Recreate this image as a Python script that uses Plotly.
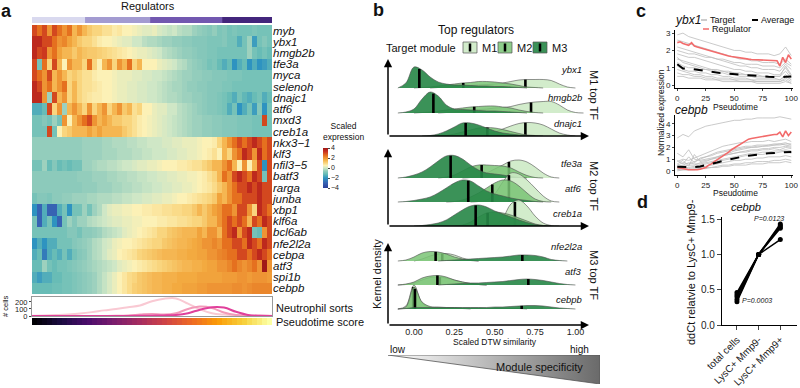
import numpy as np
import plotly.graph_objects as go

W, H = 800, 388
FONT = "Liberation Sans, Arial, Helvetica, sans-serif"

# ---------------- panel a : heatmap data ----------------
GENES = ["myb", "ybx1", "hmgb2b", "tfe3a", "myca", "selenoh", "dnajc1", "atf6", "mxd3", "creb1a",
         "nkx3\u22121", "klf3", "nfil3\u22125", "batf3", "rarga", "junba", "xbp1", "klf6a", "bcl6ab",
         "nfe2l2a", "cebpa", "atf3", "spi1b", "cebpb"]

myb = [3, 2.5, 3, 2, 3, 2.5, 2, 2.5, 1.5, 2, 1.5, 1.2, 1, 1, 0.8, 0.8, 0.6, 0.7, 0.5, 0.5, 0.4, 0.3, 0.2, 0.2,
       0.3, 0.1, 0, -0.1, 0, -0.2, -0.3, -0.3, -0.5, -0.6, -0.7, -0.8, -0.6, -0.9, -0.8, -1, -0.9, -1, -1, -1, -0.9, -1, -1, -1]
ybx1 = [3.5, 3.5, 3, 3, 2.5, 2, 2.2, 1.8, 1.5, 1.2, 1, 1, 0.8, 0.6, 0.5, 0.5, 0.4, 0.3, 0.2, 0.2, 0, 0, -0.2, -0.3,
        -0.3, -0.4, -0.5, -0.5, -0.6, -0.6, -0.7, -0.7, -0.8, -0.8, -0.8, -0.9, -0.9, -0.9, -0.8, -1, -1, -1.5, -1, -0.5, -1.8, -1, -0.8, -1]
hmgb2b = [3.5, 3, 3.2, 2, 2.5, 1.8, 1.5, 1.5, 1.2, 1.5, 1.3, 1.2, 1.2, 1.1, 1, 0.9, 0.8, 0.7, 0.6, 0.5, 0.4, 0.3, 0.3, 0.2,
          0.1, 0, -0.2, -0.3, -0.4, -0.5, -0.6, -0.6, -0.7, -0.8, -0.8, -0.9, -0.9, -1, -1, -1, -1, -1, -1, -0.5, -1, -1.2, -1, -1.2]
tfe3a = [3, -1, 2.5, 1, 3, 1.5, 0.5, 2, 1.5, 1.5, 1, 2.5, 1, 0.5, 1.5, 2, 1, 2, 1.5, 2.5, 1, 1.5, 0.5, 0.5,
         0.5, 0.3, 0.2, 0.1, 0, -0.2, -0.3, -0.5, -0.6, -0.7, -0.8, -1, -0.9, -1.2, -1.5, -1.2, -2, -1.5, -1.2, -2, -1.5, -2, -1.8, -1.5]
myca = [3, 2.5, 2, 3, 1.5, 2, 1.5, 1, 1.2, 1, 0.8, 0.8, 0.6, 0.5, 0.5, 0.5, 0.4, 0.3, 0.3, 0.3, 0.2, 0.2, 0.1, 0.1,
        0, 0, -0.1, -0.2, -0.3, -0.4, -0.5, -0.5, -0.6, -0.6, -0.7, -0.7, -0.8, -0.8, -0.8, -0.9, -0.9, -0.9, -1, -1, -1, -1, -1, -1]
selenoh = [3.5, 3, 2, 2.5, 1.5, 2, 2.5, 1, 1.5, 1, 0.8, 0.8, 0.7, 0.6, 0.5, 0.5, 0.4, 0.3, 0.3, 0.2, 0.2, 0.1, 0.1, 0,
           0, -0.1, -0.2, -0.3, -0.4, -0.4, -0.5, -0.6, -0.6, -0.7, -0.7, -0.8, -0.8, -0.8, -0.9, -0.9, -1, -1, -1, -1, -1, -1, -1, -1]
dnajc1 = [3.5, 3.5, 2, -0.5, 3, 1.5, 2, 1, 1.5, 1, 0.8, 0.7, 0.6, 0.6, 0.5, 0.5, 0.4, 0.3, 0.3, 0.2, 0.2, 0.1, 0.1, 0,
          0, -0.1, -0.2, -0.3, -0.3, -0.4, -0.5, -0.5, -0.6, -0.6, -0.7, -0.8, -0.8, -0.9, -1, -1.2, -1.5, -1, -1.3, -1.5, -1.2, -1, -1.5, -1.2]
atf6 = [-1.5, -1.5, -1.2, 3, 1, 2, -0.5, 1.5, 2, 1.5, 1, 2, 1, 1.5, 2, 1, 1.5, 2, 1.2, 1.5, 0.8, 1, 0.5, 0.5,
        0.3, 0.2, 0.2, 0, 0, -0.2, -0.3, -0.4, -0.5, -0.6, -0.7, -0.8, -0.8, -0.9, -1, -1.5, -1, -2, -1.5, -1, -1.8, -0.8, -2, -1]
mxd3 = [-1, -1, -0.8, -1, -0.5, -1, 2, 0.5, 1.5, 2, 2.5, 3, 2, 1.5, 1.8, 1.5, 1.2, 1.2, 1, 1, 0.8, 0.6, 0.5, 0.4,
        0.3, 0.2, 0.1, 0, -0.1, -0.2, -0.3, -0.4, -0.5, -0.5, -0.6, -0.6, -0.7, -0.7, -0.8, -0.8, -0.8, -0.9, -0.9, -0.9, -1, -1, 3, -1]
creb1a = [-1, -1, -1, 3, -1, 0.5, 1, 1.2, 1.5, 1.5, 1.5, 1.8, 1.5, 1.8, 1.5, 1.5, 1.5, 1.5, 1.2, 1, 0.8, 0.6, 0.5, 0.4,
          0.3, 0.2, 0.1, 0, -0.1, -0.2, -0.3, -0.4, -0.5, -0.5, -0.6, -0.6, -0.7, -0.7, -0.8, -0.8, -0.8, -0.9, -0.9, -0.9, -1, -1, -1, -1]
nkx3_1 = [-0.6, -0.6, -0.6, -0.6, -0.6, -0.6, -0.6, -0.6, -0.6, -0.6, -0.5, -0.5, -0.5, -0.5, -0.4, -0.4, -0.3, -0.3, -0.3, -0.2, -0.2, -0.1, -0.1, 0,
          0, 0, 0.1, 0.1, 0.2, 0.2, 0.3, 0.3, 0.3, 0.4, 0.5, 0.5, 0.6, 1, 1.5, 2, 2.5, 3, 2.5, 3, 3.5, 3, 2.5, 3]
klf3 = [-0.6, -0.6, -0.6, -0.6, -0.6, -0.6, -0.6, -0.6, -0.6, -0.6, -0.5, -0.5, -0.5, -0.5, -0.4, -0.4, -0.4, -0.3, -0.3, -0.3, -0.2, -0.2, -0.1, -0.1,
        0, 0, 0, 0.1, 0.1, 0.2, 0.2, 0.3, 0.3, 0.4, 0.5, 0.6, 0.8, 0.5, 1.5, 1, 2, 2.5, 3.5, 3, 2, 3.5, 2.5, 3]
nfil3_5 = [-1, -1, -0.5, -1.2, -0.8, -1.2, -1, -1.2, -1, -1, -0.5, -0.5, -0.4, -0.3, -0.3, -0.2, -0.2, -0.1, 0, 0, 0.1, 0.2, 0.2, 0.3,
           0.3, 0.4, 0.5, 0.5, 0.5, 0.6, 0.6, 0.7, 0.8, 0.8, 1, 1.2, 1.5, 1.5, 2, 2.5, 1.5, 0.5, 2, 0.5, 1.5, 3, -2, 3]
batf3 = [-0.7, -0.7, -0.7, -0.7, -0.7, -0.7, -0.7, -0.7, -0.7, -0.6, -0.6, -0.6, -0.5, -0.5, -0.5, -0.4, -0.4, -0.3, -0.3, -0.2, -0.2, -0.1, -0.1, 0,
         0, 0.1, 0.1, 0.2, 0.2, 0.3, 0.3, 0.4, 0.4, 0.5, 0.6, 0.8, 1, 1.5, 2.5, 2, 3, 3.5, 3, 2.5, 3.5, 3, -1, 3]
rarga = [-0.7, -0.7, -0.7, -0.7, -0.7, -0.7, -0.7, -0.7, -0.7, -0.7, -0.6, -0.6, -0.6, -0.5, -0.5, -0.5, -0.4, -0.4, -0.3, -0.3, -0.2, -0.2, -0.1, -0.1,
         0, 0, 0.1, 0.1, 0.2, 0.2, 0.3, 0.3, 0.4, 0.5, 0.6, 0.7, 0.9, 1.2, 1.5, 2, 2.5, 3, 3, 3.5, 3, 3.5, 3, 3]
junba = [-1, -0.8, -0.8, -0.9, -0.7, -0.7, -0.6, -0.6, -0.5, -0.5, -0.5, -0.4, -0.4, -0.3, -0.3, -0.3, -0.2, -0.2, -0.1, -0.1, 0, 0, 0.1, 0.1,
         0.2, 0.2, 0.3, 0.3, 0.4, 0.5, 0.5, 0.6, 0.7, 0.8, 0.9, 1, 1.2, 1.8, 1.5, 2, 2.5, 2.5, 3, 3, 3, 3.5, 3, 3]
xbp1 = [-2, -3, -1.5, -3, -3, -1.5, -1, -2, -1, -1, -0.5, -1, -0.5, -0.3, 0, 0.2, 0.3, 0.3, 0.4, 0.4, 0.5, 0.5, 0.6, 0.6,
        0.7, 0.7, 0.8, 0.8, 0.9, 0.9, 1, 1, 1.2, 1.5, 1.2, 1.5, 1.8, 2, 2.5, 2.5, 2, 3, 3, 2, 1, 3.5, 3, 2.5]
klf6a = [-1, -3, -1.5, -1, -2, -3, -1, -0.5, -0.8, -0.5, -0.5, -0.3, -0.2, -0.1, 0, 0.1, 0.2, 0.2, 0.3, 0.3, 0.4, 0.4, 0.5, 0.5,
         0.5, 0.6, 0.6, 0.7, 0.7, 0.8, 0.8, 0.9, 1, 1, 1.2, 1.5, 1.5, 2, 2.5, 3, 2.5, 3, 2.5, 1.5, 3, 2.5, 3.5, 3]
bcl6ab = [-1, -1, -1, -1, -1, -1, -1, -0.8, -0.8, -1, -0.7, -0.7, -0.6, -0.5, -0.3, -0.2, -0.1, 0, 0.2, 0.3, 0.4, 0.5, 0.6, 0.7,
          0.8, 1, 1, 1.2, 1.3, 1.4, 1.5, 1.5, 1.5, 1.8, 1.5, 2, 2, 1.5, 2.5, 3, 3.5, 2, 3, 3.5, -1, -1.2, 2, 3]
nfe2l2a = [-2, -1.5, -2, -1.5, -1.5, -1, -1, -1, -0.8, -0.7, -0.6, -0.5, -0.3, -0.2, 0, 0.1, 0.3, 0.4, 0.5, 0.5, 0.6, 0.7, 0.8, 0.9,
           1, 1, 1.2, 1.3, 1.4, 1.5, 1.5, 1.6, 1.7, 1.8, 2, 2, 2.2, 2, 2.5, 2.5, 3, 3, 2.5, 3.5, 3, 2.5, 3.5, 3]
cebpa = [-1.5, -1.2, -2.5, -1.5, -1.2, -1.5, -1, -1.5, -1, -0.8, -0.7, -0.5, -0.3, -0.2, 0, 0.2, 0.3, 0.5, 0.6, 0.7, 0.8, 1, 1.1, 1.2,
         1.3, 1.4, 1.5, 1.5, 1.5, 1.6, 1.6, 1.7, 1.7, 1.8, 1.8, 2, 2, 2.2, 2.3, 2.5, 2.5, 3, 3, 2.5, 3, 3.5, 3, 2.5]
atf3 = [-1.2, -1.2, -0.5, -1, -1.2, -1, -1, -0.9, -0.8, -0.7, -0.6, -0.5, -0.4, -0.3, -0.2, -0.1, 0, 0.2, 0.3, 0.4, 0.5, 0.6, 0.7, 0.8,
        0.9, 1, 1.1, 1.2, 1.3, 1.4, 1.5, 1.5, 1.6, 1.6, 1.7, 1.8, 1.8, 2, 2, 2.2, 2.5, 2.2, 2, 2.2, 2.5, 2, 4, 2]
spi1b = [-1.5, -1.8, -1.5, -1.5, -1.2, -1.2, -1, -1, -0.9, -0.8, -0.7, -0.6, -0.5, -0.3, -0.1, 0.1, 0.3, 0.5, 0.7, 0.9, 1, 1.2, 1.3, 1.4,
         1.5, 1.5, 1.6, 1.6, 1.6, 1.7, 1.7, 1.7, 1.7, 1.8, 1.8, 1.8, 1.8, 1.8, 1.9, 1.9, 1.9, 2, 2, 1.9, 2, 2, 2, 1.9]
cebpb = [-1.2, -1.2, -1.2, -1.2, -1.1, -1.1, -1, -1, -0.9, -0.8, -0.7, -0.6, -0.5, -0.3, -0.1, 0.1, 0.3, 0.5, 0.7, 0.9, 1.1, 1.2, 1.3, 1.4,
         1.5, 1.5, 1.6, 1.6, 1.7, 1.7, 1.8, 1.8, 1.8, 1.9, 1.9, 2, 2, 2, 2, 2, 2.1, 2.1, 2, 2.1, 2.2, 2.2, 2.2, 2.2]

HEAT_ROWS = [myb, ybx1, hmgb2b, tfe3a, myca, selenoh, dnajc1, atf6, mxd3, creb1a, nkx3_1, klf3, nfil3_5,
             batf3, rarga, junba, xbp1, klf6a, bcl6ab, nfe2l2a, cebpa, atf3, spi1b, cebpb]

REG_GROUPS = ["R1", "R2", "R3", "R4"]
REG_WIDTHS = [0.221, 0.271, 0.300, 0.208]
REG_COLORS = ["#d9d9ef", "#a39bd1", "#7258b0", "#43267c"]

PSEUDOTIME = [0.00, 0.02, 0.04, 0.06, 0.085, 0.105, 0.125, 0.15, 0.17, 0.19, 0.21, 0.23, 0.255, 0.275, 0.295, 0.32,
              0.34, 0.36, 0.38, 0.40, 0.425, 0.445, 0.465, 0.49, 0.51, 0.53, 0.55, 0.575, 0.595, 0.615, 0.64, 0.66,
              0.68, 0.70, 0.72, 0.745, 0.765, 0.785, 0.81, 0.83, 0.85, 0.87, 0.89, 0.915, 0.935, 0.955, 0.98, 1.00]

SORT_X = [0, 0.05, 0.1, 0.15, 0.2, 0.25, 0.3, 0.35, 0.4, 0.45, 0.5, 0.55, 0.6, 0.65, 0.7, 0.75, 0.8, 0.85, 0.9, 0.95, 1.0]
SORT_A = [5, 8, 14, 22, 35, 55, 80, 100, 125, 150, 210, 245, 250, 175, 95, 40, 20, 10, 5, 3, 2]
SORT_B = [0, 0, 0, 0, 0, 0, 1, 3, 8, 20, 30, 20, 40, 100, 135, 115, 50, 15, 5, 2, 1]
SORT_C = [0, 0, 0, 0, 0, 0, 0, 0, 0, 2, 5, 8, 15, 40, 90, 125, 120, 60, 15, 3, 1]

# ---------------- panel b : ridge densities ----------------
DTW_GRID = [-0.10, -0.05, 0.00, 0.05, 0.10, 0.15, 0.20, 0.25, 0.30, 0.35, 0.40, 0.45, 0.50, 0.55, 0.60, 0.65,
            0.70, 0.75, 0.80, 0.85, 0.90, 0.95, 1.00, 1.05]
MODULES = ["M1", "M2", "M3"]

ybx1_M1 = [0, 0, 0, 0, 0, 0.5, 1, 1.5, 2, 2.5, 3, 3.5, 4, 5, 6.5, 8, 8.5, 8.5, 8.5, 7.5, 4, 1, 0, 0]
ybx1_M2 = [0, 0, 0, 0.5, 1, 2, 3, 4, 5, 5.5, 6.5, 6.5, 6, 5, 4, 2.5, 1, 0.5, 0, 0, 0, 0, 0, 0]
ybx1_M3 = [0, 5, 21, 18, 11, 6, 4, 3, 3, 2.5, 2, 2, 1.5, 1.5, 1, 0.5, 0, 0, 0, 0, 0, 0, 0, 0]
ybx1_MED = [0.69, 0.305, 0.033]
hmgb2b_M1 = [0, 0, 0, 0, 0, 0, 0.5, 1, 2, 3, 3.5, 4, 5, 5.5, 6.5, 8.5, 10, 11, 11.5, 11.5, 8, 3, 0.5, 0]
hmgb2b_M2 = [0, 0, 0, 0.5, 1, 2, 3, 4, 5, 6, 6.5, 7, 7, 6, 5, 3, 1.5, 0.5, 0, 0, 0, 0, 0, 0]
hmgb2b_M3 = [0, 1, 4, 14, 21, 17, 8, 4, 3.5, 3, 2.5, 2, 2, 1.5, 1, 0.5, 0, 0, 0, 0, 0, 0, 0, 0]
hmgb2b_MED = [0.725, 0.373, 0.12]
dnajc1_M1 = [0, 0, 0, 0, 0, 0, 0, 0, 0, 0, 0.5, 2, 4, 7, 10, 12.5, 13.5, 13, 11, 7, 3, 1, 0, 0]
dnajc1_M2 = [0, 0, 0, 0, 0, 0, 0.5, 2, 4, 6, 8, 8.5, 8, 6.5, 4.5, 2.5, 1, 0.5, 0, 0, 0, 0, 0, 0]
dnajc1_M3 = [0, 0, 0, 0, 0.5, 2, 5, 9, 13, 13, 11, 8, 5, 3, 2, 1, 0.5, 0, 0, 0, 0, 0, 0, 0]
dnajc1_MED = [0.69, 0.454, 0.32]
tfe3a_M1 = [0, 0, 0, 0, 0, 0, 0, 0, 0, 0.5, 2, 5, 9, 13, 17, 18, 16, 11, 5, 1, 0, 0, 0, 0]
tfe3a_M2 = [0, 0, 0, 0, 0, 0, 1, 3, 7, 11, 13, 13, 12.5, 12, 10, 6, 2.5, 0.5, 0, 0, 0, 0, 0, 0]
tfe3a_M3 = [0, 1, 3, 6, 11, 17, 22, 22.5, 19, 13, 8, 5, 4, 3, 1.5, 0.5, 0, 0, 0, 0, 0, 0, 0, 0]
tfe3a_MED = [0.588, 0.419, 0.227]
atf6_M1 = [0, 0, 0, 0, 0, 0, 0, 0, 0, 0, 0.5, 2, 8, 20, 29, 28, 22, 14, 6, 1, 0, 0, 0, 0]
atf6_M2 = [0, 0, 0, 0, 0, 0, 0, 0.5, 2, 5, 9, 14, 19, 22, 21, 16, 9, 3, 0.5, 0, 0, 0, 0, 0]
atf6_M3 = [0, 0.5, 1.5, 3, 5, 9, 14, 19, 22, 21, 16, 11, 8, 6, 4, 2.5, 1.5, 0.5, 0, 0, 0, 0, 0, 0]
atf6_MED = [0.588, 0.485, 0.336]
creb1a_M1 = [0, 0, 0, 0, 0, 0, 0, 0, 0, 0, 0, 0, 1, 8, 22, 26, 20, 10, 3, 0.5, 0, 0, 0, 0]
creb1a_M2 = [0, 0, 0, 0, 0, 0, 0, 0, 1, 4, 9, 13, 14, 13, 11, 8, 5, 2, 0.5, 0, 0, 0, 0, 0]
creb1a_M3 = [0, 0, 0, 0.5, 1.5, 3, 6, 11, 16, 20, 21, 19, 15, 12, 9, 6, 3.5, 1.5, 0.5, 0, 0, 0, 0, 0]
creb1a_MED = [0.625, 0.456, 0.382]
nfe2l2a_M1 = [0, 0, 0, 2, 5, 7, 7.5, 6, 3, 1, 0, 0, 0, 0, 0, 0, 0, 0, 0, 0, 0, 0, 0, 0]
nfe2l2a_M2 = [0, 1, 4, 8, 9.5, 9, 7, 4, 2, 0.5, 0, 0, 0, 0, 0, 0, 0, 0, 0, 0, 0, 0, 0, 0]
nfe2l2a_M3 = [0, 0, 0, 0, 0, 0, 0.5, 1, 1.5, 2, 2.5, 3, 3.5, 4, 5, 6, 6, 5.5, 4, 1.5, 0.5, 0, 0, 0]
nfe2l2a_MED = [0.175, 0.134, 0.671]
atf3_M1 = [0, 0.5, 2, 5, 7.5, 8, 7, 5, 3, 1.5, 0.5, 0, 0, 0, 0, 0, 0, 0, 0, 0, 0, 0, 0, 0]
atf3_M2 = [0, 1, 3, 7, 9, 9.5, 8, 5, 3, 1.5, 0.5, 0, 0, 0, 0, 0, 0, 0, 0, 0, 0, 0, 0, 0]
atf3_M3 = [0, 0, 0, 0, 0, 0, 0.5, 1, 1.5, 2, 2, 2.5, 3, 3.5, 4.5, 5.5, 6, 5.5, 4.5, 3, 1.5, 0.5, 0, 0]
atf3_MED = [0.16, 0.145, 0.708]
cebpb_M1 = [0, 3, 24, 6, 1.5, 1, 1, 0.5, 0.5, 0, 0, 0, 0, 0, 0, 0, 0, 0, 0, 0, 0, 0, 0, 0]
cebpb_M2 = [0, 2, 22, 7, 2.5, 2, 1.5, 1.5, 1, 1, 1, 0.5, 0.5, 0.5, 0.5, 0.5, 0, 0, 0, 0, 0, 0, 0, 0]
cebpb_M3 = [0, 0.5, 1.5, 1.5, 1.5, 1.5, 1.5, 1.5, 1.5, 1.5, 1.5, 1.5, 2, 2, 2.5, 3, 3.5, 3.5, 3, 2, 1, 0.5, 0, 0]
cebpb_MED = [-0.005, 0.006, 0.667]

RIDGES = {
    "ybx1": ([ybx1_M1, ybx1_M2, ybx1_M3], ybx1_MED),
    "hmgb2b": ([hmgb2b_M1, hmgb2b_M2, hmgb2b_M3], hmgb2b_MED),
    "dnajc1": ([dnajc1_M1, dnajc1_M2, dnajc1_M3], dnajc1_MED),
    "tfe3a": ([tfe3a_M1, tfe3a_M2, tfe3a_M3], tfe3a_MED),
    "atf6": ([atf6_M1, atf6_M2, atf6_M3], atf6_MED),
    "creb1a": ([creb1a_M1, creb1a_M2, creb1a_M3], creb1a_MED),
    "nfe2l2a": ([nfe2l2a_M1, nfe2l2a_M2, nfe2l2a_M3], nfe2l2a_MED),
    "atf3": ([atf3_M1, atf3_M2, atf3_M3], atf3_MED),
    "cebpb": ([cebpb_M1, cebpb_M2, cebpb_M3], cebpb_MED),
}
DTW_TICKS = [0, 0.25, 0.5, 0.75, 1.0]
DTW_TICKTEXT = ["0.00", "0.25", "0.50", "0.75", "1.00"]
WEDGE_X = [0, 1, 1, 0]
WEDGE_Y = [1, 1, 0, 1]

# ---------------- panel c ----------------
PT21 = [0, 5, 10, 15, 20, 25, 30, 35, 40, 45, 50, 55, 60, 65, 70, 75, 80, 85, 90, 95, 100]
PT41 = [0, 2.5, 5, 7.5, 10, 12.5, 15, 17.5, 20, 22.5, 25, 27.5, 30, 32.5, 35, 37.5, 40, 42.5, 45, 47.5, 50,
        52.5, 55, 57.5, 60, 62.5, 65, 67.5, 70, 72.5, 75, 77.5, 80, 82.5, 85, 87.5, 90, 92.5, 95, 97.5, 100]
YBX1_TARGETS = [
    [2.9, 3.0, 2.8, 2.7, 2.6, 2.5, 2.4, 2.3, 2.2, 2.1, 2.0, 2.0, 1.9, 1.9, 1.8, 1.8, 1.8, 1.7, 1.8, 2.2, 1.7],
    [2.6, 2.5, 2.4, 2.3, 2.2, 2.1, 2.0, 1.9, 1.8, 1.7, 1.6, 1.5, 1.5, 1.4, 1.4, 1.3, 1.3, 1.3, 1.2, 1.5, 1.2],
    [2.2, 2.1, 2.0, 1.9, 1.8, 1.7, 1.6, 1.5, 1.4, 1.3, 1.2, 1.1, 1.1, 1.0, 1.0, 0.9, 0.9, 0.9, 0.8, 1.2, 0.9],
    [1.8, 1.7, 1.6, 1.6, 1.5, 1.4, 1.3, 1.2, 1.1, 1.0, 0.9, 0.9, 0.8, 0.8, 0.7, 0.7, 0.7, 0.6, 0.6, 1.0, 0.5],
    [1.5, 1.4, 1.3, 1.2, 1.1, 1.0, 0.9, 0.9, 0.8, 0.8, 0.7, 0.7, 0.6, 0.6, 0.6, 0.5, 0.5, 0.5, 0.5, 0.8, 0.4],
    [1.3, 1.1, 1.0, 1.0, 0.9, 0.9, 0.8, 0.7, 0.7, 0.6, 0.6, 0.5, 0.5, 0.5, 0.4, 0.4, 0.4, 0.4, 0.3, 0.6, 0.3],
    [1.1, 0.9, 0.8, 0.8, 0.7, 0.7, 0.6, 0.6, 0.5, 0.5, 0.4, 0.4, 0.4, 0.3, 0.3, 0.3, 0.3, 0.3, 0.3, 0.5, 0.3],
    [0.9, 0.8, 0.7, 0.6, 0.6, 0.5, 0.5, 0.4, 0.4, 0.4, 0.3, 0.3, 0.3, 0.3, 0.2, 0.2, 0.2, 0.2, 0.2, 0.4, 0.2],
    [0.7, 0.6, 0.6, 0.5, 0.5, 0.4, 0.4, 0.3, 0.3, 0.3, 0.3, 0.2, 0.2, 0.2, 0.2, 0.2, 0.2, 0.2, 0.2, 0.3, 0.1],
    [1.6, 1.3, 1.2, 1.1, 1.0, 0.9, 0.9, 0.8, 0.8, 0.7, 0.7, 0.6, 0.6, 0.6, 0.5, 0.5, 0.5, 0.5, 0.5, 1.1, 0.6],
    [0.5, 0.5, 0.4, 0.4, 0.4, 0.3, 0.3, 0.3, 0.2, 0.2, 0.2, 0.2, 0.2, 0.2, 0.1, 0.1, 0.1, 0.1, 0.1, 0.2, 0.1],
    [2.0, 1.9, 1.8, 1.8, 1.7, 1.6, 1.6, 1.5, 1.5, 1.4, 1.3, 1.3, 1.2, 1.2, 1.2, 1.1, 1.1, 1.1, 1.0, 1.3, 1.1],
]
YBX1_REG = [2.45, 2.5, 2.4, 2.35, 2.3, 2.45, 2.25, 2.2, 2.15, 2.1, 2.05, 2.0, 1.95, 1.9, 1.85, 1.8, 1.78, 1.72,
            1.68, 1.65, 1.62, 1.6, 1.55, 1.52, 1.5, 1.5, 1.48, 1.47, 1.45, 1.45, 1.43, 1.42, 1.42, 1.4, 1.38, 1.4,
            1.1, 1.6, 1.3, 1.75, 1.5]
YBX1_AVG = [1.2, 0.95, 0.95, 0.9, 0.85, 0.8, 0.75, 0.7, 0.67, 0.65, 0.62, 0.6, 0.57, 0.55, 0.52, 0.5, 0.48, 0.47, 0.45, 0.48, 0.5]

CEBPB_TARGETS = [
    [2.8, 3.1, 2.9, 3.4, 3.6, 3.8, 3.9, 4.0, 4.1, 4.2, 4.3, 4.3, 4.4, 4.4, 4.5, 4.5, 4.5, 4.5, 4.6, 4.5, 4.4],
    [0.8, 1.0, 0.9, 1.1, 1.3, 1.5, 1.7, 1.9, 2.1, 2.2, 2.3, 2.4, 2.4, 2.5, 2.5, 2.5, 2.6, 2.5, 2.6, 2.7, 2.5],
    [0.5, 0.7, 0.6, 0.8, 1.0, 1.2, 1.4, 1.6, 1.7, 1.8, 1.9, 2.0, 2.1, 2.1, 2.2, 2.2, 2.2, 2.3, 2.3, 2.4, 2.2],
    [0.3, 0.4, 0.5, 0.5, 0.7, 0.8, 1.0, 1.1, 1.3, 1.4, 1.5, 1.6, 1.7, 1.8, 1.8, 1.9, 1.9, 2.0, 2.0, 2.1, 2.0],
    [0.2, 0.3, 0.3, 0.4, 0.5, 0.6, 0.7, 0.8, 0.9, 1.0, 1.1, 1.2, 1.3, 1.3, 1.4, 1.4, 1.5, 1.5, 1.6, 1.7, 1.5],
    [0.1, 0.2, 0.2, 0.3, 0.3, 0.4, 0.5, 0.6, 0.7, 0.8, 0.9, 0.9, 1.0, 1.0, 1.1, 1.1, 1.2, 1.2, 1.2, 1.3, 1.2],
    [0.1, 0.1, 0.1, 0.2, 0.2, 0.3, 0.3, 0.4, 0.5, 0.5, 0.6, 0.6, 0.7, 0.7, 0.8, 0.8, 0.8, 0.9, 0.9, 1.0, 0.9],
    [1.5, 1.2, 1.8, 1.0, 0.9, 1.0, 1.1, 1.2, 1.3, 1.4, 1.5, 1.6, 1.6, 1.7, 1.7, 1.8, 1.8, 1.9, 1.8, 2.0, 1.9],
    [0.6, 0.9, 0.4, 1.4, 0.8, 0.9, 1.0, 1.2, 1.4, 1.5, 1.7, 1.8, 1.9, 2.0, 2.0, 2.1, 2.1, 2.2, 2.3, 2.2, 2.1],
    [0.0, 0.1, 0.1, 0.1, 0.2, 0.2, 0.3, 0.3, 0.4, 0.4, 0.5, 0.5, 0.5, 0.6, 0.6, 0.6, 0.7, 0.7, 0.7, 0.8, 0.7],
    [0.4, 0.5, 0.7, 0.6, 0.6, 0.7, 0.8, 0.9, 1.0, 1.1, 1.2, 1.3, 1.4, 1.5, 1.5, 1.6, 1.6, 1.7, 1.7, 1.8, 1.7],
    [0.9, 0.6, 1.2, 0.7, 1.1, 1.2, 1.3, 1.5, 1.6, 1.7, 1.8, 1.9, 2.0, 2.0, 2.1, 2.1, 2.2, 2.2, 2.2, 2.3, 2.3],
]
CEBPB_REG = [0.3, 0.25, 0.15, 0.1, 0.1, 0.1, 0.08, 0.1, 0.15, 0.2, 0.3, 0.5, 0.6, 0.8, 0.95, 1.1, 1.3, 1.45, 1.6,
             1.8, 1.95, 2.1, 2.25, 2.45, 2.6, 2.7, 2.75, 2.8, 2.85, 2.9, 2.95, 3.0, 3.0, 3.05, 3.1, 3.1, 3.3, 2.9,
             3.4, 3.0, 3.3]
CEBPB_AVG = [0.35, 0.32, 0.3, 0.32, 0.38, 0.48, 0.6, 0.72, 0.85, 0.97, 1.07, 1.17, 1.26, 1.34, 1.4, 1.45, 1.5, 1.53, 1.56, 1.6, 1.62]
PT_TICKS = [0, 25, 50, 75, 100]

# ---------------- panel d ----------------
D_CATS = ["total cells", "LysC+ Mmp9-", "LysC+ Mmp9+"]
D_REP1 = [0.46, 1.0, 1.43]
D_REP2 = [0.43, 1.0, 1.41]
D_REP3 = [0.40, 1.0, 1.39]
D_REP4 = [0.36, 1.0, 1.37]
D_REP5 = [0.33, 1.0, 1.21]
D_REPS = [D_REP1, D_REP2, D_REP3, D_REP4, D_REP5]

# ================= build =================
def xd(a, b):
    return [a / W, b / W]


def yd(top, bottom):
    return [1 - bottom / H, 1 - top / H]


def X(p):
    return p / W


def Y(p):
    return 1 - p / H


fig = go.Figure()
HEAT_SCALE = [[0.0, "#2c3e99"], [0.125, "#3763b3"], [0.25, "#2e93c0"], [0.35, "#68bcb6"], [0.425, "#93cdbc"],
              [0.5, "#cfe7c6"], [0.5625, "#fcf1b6"], [0.625, "#f9d57e"], [0.7125, "#f3aa40"], [0.8125, "#e5701f"],
              [0.9125, "#c8301f"], [1.0, "#a01818"]]

fig.add_trace(go.Heatmap(z=HEAT_ROWS, y=GENES, x=list(range(len(myb))), zmin=-4, zmax=4, colorscale=HEAT_SCALE,
                         xaxis="x", yaxis="y", hoverinfo="skip",
                         colorbar=dict(x=X(322.5), xanchor="left", y=Y(168), yanchor="middle", len=40 / H,
                                       lenmode="fraction", thickness=5, thicknessmode="pixels", outlinewidth=0,
                                       tickvals=[-4, -2, 0, 2, 4], tickfont=dict(size=7, family=FONT, color="#222"),
                                       ticks="outside", ticklen=2, tickcolor="#444", xpad=0, ypad=0)))

base = 0
for g, w, c in zip(REG_GROUPS, REG_WIDTHS, REG_COLORS):
    fig.add_trace(go.Bar(x=[w], base=[base], y=[0], orientation="h", width=1, marker=dict(color=c, line=dict(width=0)),
                         xaxis="x2", yaxis="y2", hoverinfo="skip", showlegend=False))
    base += w

for ys, col in [(SORT_A, "#f9c9d3"), (SORT_B, "#f29ab9"), (SORT_C, "#e0409b")]:
    fig.add_trace(go.Scatter(x=SORT_X, y=ys, mode="lines", line=dict(color=col, width=2, shape="spline"),
                             xaxis="x3", yaxis="y3", hoverinfo="skip", showlegend=False))

fig.add_trace(go.Heatmap(z=[PSEUDOTIME], x=list(range(len(PSEUDOTIME))), y=[0], colorscale="Inferno",
                         showscale=False, xaxis="x4", yaxis="y4", hoverinfo="skip"))

MOD_FILL = ["rgba(204,233,196,0.88)", "rgba(122,196,117,0.85)", "rgba(38,134,70,0.9)"]
panels = [
    ("x5", "y5", 59, 136, [("ybx1", 48), ("hmgb2b", 23), ("dnajc1", 0)]),
    ("x6", "y6", 149, 226, [("tfe3a", 48), ("atf6", 24), ("creb1a", 0)]),
    ("x7", "y7", 243, 325, [("nfe2l2a", 64), ("atf3", 40), ("cebpb", 16)]),
]
grid = np.array(DTW_GRID)
for xa, ya, top, bot, ridges in panels:
    for gene, off in ridges:
        dens, meds = RIDGES[gene]
        for m in range(3):
            d = dens[m]
            idx = [i for i, v in enumerate(d) if v > 0]
            lo, hi = max(idx[0] - 1, 0), min(idx[-1] + 1, len(d) - 1)
            xs = DTW_GRID[lo:hi + 1]
            ys = [off + v for v in d[lo:hi + 1]]
            fig.add_trace(go.Scatter(x=xs, y=ys, mode="lines", fill="toself", fillcolor=MOD_FILL[m],
                                     line=dict(color="#4d4d4d", width=0.6, shape="spline", smoothing=1.0),
                                     xaxis=xa, yaxis=ya, hoverinfo="skip", showlegend=False))
            hgt = float(np.interp(meds[m], grid, d))
            fig.add_trace(go.Scatter(x=[meds[m], meds[m]], y=[off, off + hgt], mode="lines",
                                     line=dict(color="black", width=2.6), xaxis=xa, yaxis=ya,
                                     hoverinfo="skip", showlegend=False))

fig.add_trace(go.Scatter(x=WEDGE_X, y=WEDGE_Y, mode="lines", fill="toself",
                         fillgradient=dict(type="horizontal", colorscale=[[0, "#ffffff"], [1, "#6a6a6a"]]),
                         line=dict(color="#555", width=0.8), xaxis="x8", yaxis="y8", hoverinfo="skip",
                         showlegend=False))

for xa, ya, targets, reg, avg in [("x9", "y9", YBX1_TARGETS, YBX1_REG, YBX1_AVG),
                                  ("x10", "y10", CEBPB_TARGETS, CEBPB_REG, CEBPB_AVG)]:
    for t in targets:
        fig.add_trace(go.Scatter(x=PT21, y=t, mode="lines", line=dict(color="#bdbdbd", width=0.8),
                                 xaxis=xa, yaxis=ya, hoverinfo="skip", showlegend=False))
    fig.add_trace(go.Scatter(x=PT41, y=reg, mode="lines", line=dict(color="#f26b6b", width=1.6),
                             xaxis=xa, yaxis=ya, hoverinfo="skip", showlegend=False))
    fig.add_trace(go.Scatter(x=PT21, y=avg, mode="lines", line=dict(color="black", width=2, dash="dash"),
                             xaxis=xa, yaxis=ya, hoverinfo="skip", showlegend=False))

for r in D_REPS:
    fig.add_trace(go.Scatter(x=D_CATS, y=r, mode="lines+markers", line=dict(color="black", width=1.5),
                             marker=dict(color="black", size=5), xaxis="x11", yaxis="y11",
                             hoverinfo="skip", showlegend=False))

# ---------------- layout ----------------
hidden = dict(visible=False, showgrid=False, zeroline=False, automargin=False)
lay = dict(
    template="none",
    width=W, height=H, margin=dict(l=0, r=0, t=0, b=0, pad=0, autoexpand=False),
    paper_bgcolor="white", plot_bgcolor="white",
    showlegend=False, font=dict(family=FONT, color="#222"), barmode="overlay",
    xaxis=dict(domain=xd(32, 272), anchor="y", range=[-0.5, len(myb) - 0.5], **hidden),
    yaxis=dict(domain=yd(25, 294), anchor="x", autorange="reversed", side="right", showgrid=False,
               zeroline=False, ticks="", automargin=False, tickmode="array", tickvals=GENES, ticktext=GENES,
               tickfont=dict(size=11.5, style="italic", family=FONT, color="#111")),
    xaxis2=dict(domain=xd(32, 272), anchor="y2", range=[0, 1], **hidden),
    yaxis2=dict(domain=yd(17, 23), anchor="x2", range=[-0.5, 0.5], **hidden),
    xaxis3=dict(domain=xd(32, 272), anchor="y3", range=[0, 1], showgrid=False, zeroline=False, automargin=False,
                showticklabels=False, ticks="", showline=True, mirror=True, linecolor="#999", linewidth=1),
    yaxis3=dict(domain=yd(297, 316), anchor="x3", range=[0, 270], showgrid=False, zeroline=False, automargin=False,
                tickvals=[0, 100, 200], tickfont=dict(size=7.5, family=FONT), ticks="outside", ticklen=2,
                showline=True, mirror=True, linecolor="#999", linewidth=1),
    xaxis4=dict(domain=xd(32, 272), anchor="y4", range=[-0.5, len(PSEUDOTIME) - 0.5], **hidden),
    yaxis4=dict(domain=yd(318, 325), anchor="x4", range=[-0.5, 0.5], **hidden),
    xaxis8=dict(domain=xd(388, 600), anchor="y8", range=[0, 1], **hidden),
    yaxis8=dict(domain=yd(355, 384), anchor="x8", range=[0, 1], **hidden),
)
for i, (xa, ya, top, bot, ridges) in zip([5, 6, 7], panels):
    lay["xaxis%d" % i] = dict(domain=xd(388, 589), anchor="y%d" % i, range=[-0.161, 1.084], showgrid=False,
                              zeroline=False, showline=False, ticks="", showticklabels=(i == 7), automargin=False,
                              tickvals=DTW_TICKS, ticktext=DTW_TICKTEXT, tickfont=dict(size=9, family=FONT))
    lay["yaxis%d" % i] = dict(domain=yd(top, bot), anchor="x%d" % i, range=[0, bot - top], visible=False,
                              automargin=False)

c_axis = dict(showgrid=False, zeroline=False, showline=True, linecolor="black", linewidth=1, ticks="outside",
              ticklen=2, tickfont=dict(size=8, family=FONT), automargin=False)
lay["xaxis9"] = dict(domain=xd(675, 793), anchor="y9", range=[-2, 101.5], tickvals=PT_TICKS, **c_axis)
lay["yaxis9"] = dict(domain=yd(30, 88), anchor="x9", range=[-0.17, 3.18], tickvals=[0, 1, 2, 3], **c_axis)
lay["xaxis10"] = dict(domain=xd(675, 793), anchor="y10", range=[-2, 101.5], tickvals=PT_TICKS, **c_axis)
lay["yaxis10"] = dict(domain=yd(115, 175), anchor="x10", range=[-0.34, 4.75], tickvals=[0, 1, 2, 3, 4], **c_axis)

d_axis = dict(showgrid=False, zeroline=False, showline=True, linecolor="black", linewidth=1.2, ticks="outside",
              ticklen=4, tickfont=dict(size=10, family=FONT), automargin=False)
lay["xaxis11"] = dict(domain=xd(722, 797), anchor="y11", type="category", range=[-0.69, 2.77],
                      tickangle=-45, **d_axis)
lay["yaxis11"] = dict(domain=yd(217, 325), anchor="x11", range=[0, 1.53], tickvals=[0, 0.5, 1, 1.5],
                      ticktext=["0.0", "0.5", "1.0", "1.5"], **d_axis)
fig.update_layout(**lay)

# ---------------- annotations ----------------
ann = []


def T(text, x, y, size, xanchor="center", yanchor="middle", angle=0, color="#111"):
    ann.append(dict(text=text, x=X(x), y=Y(y), xref="paper", yref="paper", showarrow=False, xanchor=xanchor,
                    yanchor=yanchor, textangle=angle, font=dict(size=size, family=FONT, color=color)))


T("<b>a</b>", 6, 11, 18)
T("<b>b</b>", 378, 10, 18)
T("<b>c</b>", 641, 11, 18)
T("<b>d</b>", 642, 202, 18)
T("Regulators", 148, 6, 11)
T("Scaled<br>expression", 321, 131, 8.5, xanchor="left")
T("Neutrophil sorts", 274, 308, 11, xanchor="left")
T("Pseudotime score", 274, 322, 11, xanchor="left")
T("# cells", 5, 306, 7.5, angle=-90)

T("Top regulators", 476, 30, 12)
T("Target module", 421, 48, 11)
T("M1", 480, 48, 11, xanchor="left")
T("M2", 515, 48, 11, xanchor="left")
T("M3", 550, 48, 11, xanchor="left")
label_y = {"ybx1": 69, "hmgb2b": 97, "dnajc1": 124, "tfe3a": 163, "atf6": 188, "creb1a": 213,
           "nfe2l2a": 246, "atf3": 271, "cebpb": 299}
for gname, yy in label_y.items():
    T("<i>%s</i>" % gname, 584, yy, 9.5, xanchor="right")
T("M1 top TF", 594, 95, 11, angle=90)
T("M2 top TF", 594, 186, 11, angle=90)
T("M3 top TF", 594, 275, 11, angle=90)
T("Kernel density", 377, 274, 11, angle=-90)
T("Scaled DTW similarity", 495, 342, 8.5)
T("low", 388, 349, 10, xanchor="left")
T("high", 591, 349, 10, xanchor="right")
T("Module specificity", 539, 367, 11)

T("<i>ybx1</i>", 673, 20, 12, xanchor="left")
T("<i>cebpb</i>", 673, 109.5, 12, xanchor="left")
T("Target", 708, 20, 9, xanchor="left")
T("Regulator", 710, 29, 9, xanchor="left")
T("Average", 759, 20, 9, xanchor="left")
T("Pseudotime", 735, 107, 8.5)
T("Pseudotime", 735, 193, 8.5)
T("Normalized expression", 661, 113, 8.5, angle=-90)

T("<i>cebpb</i>", 746, 207, 11)
T("<i>P=0.0123</i>", 769, 218, 7)
T("<i>P=0.0003</i>", 757, 300, 7)
T("ddCt relatvie to LysC+ Mmp9-", 691, 272, 11, angle=-90)

for i, (xa, ya, top, bot, ridges) in zip([5, 6, 7], panels):
    ann.append(dict(text="", x=1, y=0, xref="x%d domain" % i, yref="y%d domain" % i, showarrow=True,
                    ax=-201, ay=0, arrowhead=2, arrowsize=1.1, arrowwidth=1.5, arrowcolor="black", standoff=0))
    ann.append(dict(text="", x=0, y=1, xref="x%d domain" % i, yref="y%d domain" % i, showarrow=True,
                    ax=0, ay=bot - top, arrowhead=2, arrowsize=1.1, arrowwidth=1.5, arrowcolor="black", standoff=0))
fig.update_layout(annotations=ann)

shapes = []
for bx, fc in zip([463, 498, 533], MOD_FILL):
    shapes.append(dict(type="rect", xref="paper", yref="paper", x0=X(bx), x1=X(bx + 14), y0=Y(53), y1=Y(42),
                       fillcolor=fc, line=dict(color="#555", width=0.7)))
    shapes.append(dict(type="line", xref="paper", yref="paper", x0=X(bx + 7), x1=X(bx + 7), y0=Y(51.5), y1=Y(43.5),
                       line=dict(color="black", width=2.5)))
shapes.append(dict(type="line", xref="paper", yref="paper", x0=X(701), x1=X(707), y0=Y(20), y1=Y(20),
                   line=dict(color="#aaaaaa", width=1.2)))
shapes.append(dict(type="line", xref="paper", yref="paper", x0=X(703), x1=X(709), y0=Y(29), y1=Y(29),
                   line=dict(color="#f26b6b", width=1.5)))
shapes.append(dict(type="line", xref="paper", yref="paper", x0=X(752), x1=X(758), y0=Y(20), y1=Y(20),
                   line=dict(color="black", width=2)))
fig.update_layout(shapes=shapes)

fig.write_html("out.html", config={"displayModeBar": False},
               post_script="document.body.style.margin='0px';document.body.style.padding='0px';"
                           "document.body.style.overflow='hidden';")
